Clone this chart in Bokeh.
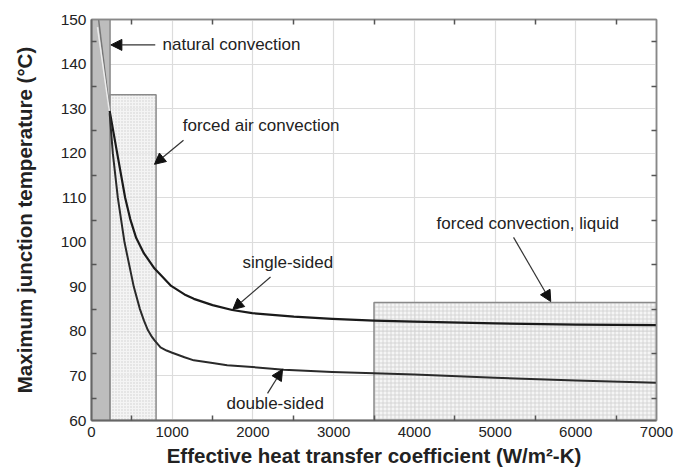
from bokeh.plotting import figure
from bokeh.models import (Range1d, FixedTicker, LinearAxis, Arrow, NormalHead, Label,
                          CustomLabelingPolicy)
from bokeh.embed import file_html
from bokeh.resources import INLINE

# ---- data ----
single_h = [225, 318, 417, 480, 553, 650, 700, 781, 855, 987, 1152, 1268, 1500, 1743, 1991, 2507, 2983, 3500, 4000, 5000, 6000, 7000]
single_T = [129.5, 120, 110, 105.2, 101.0, 97.5, 96.2, 94.1, 92.7, 90.2, 88.3, 87.3, 85.9, 84.8, 84.1, 83.3, 82.8, 82.4, 82.2, 81.8, 81.5, 81.4]
double_h = [225, 264, 326, 409, 524, 600, 650, 698, 740, 781, 855, 930, 1000, 1152, 1268, 1500, 1681, 1991, 2383, 2983, 3500, 4000, 5000, 6000, 7000]
double_T = [129, 120, 110, 100, 90, 85.0, 82.4, 80.3, 79.0, 78.0, 76.4, 75.7, 75.2, 74.2, 73.5, 72.9, 72.4, 72.0, 71.4, 70.9, 70.6, 70.3, 69.6, 69.0, 68.5]
# continuation of the curves inside the natural-convection band
single_nat_h = [88, 225]
single_nat_T = [150, 129.5]
double_nat_h = [74, 225]
double_nat_T = [148.3, 129]

# regimes: (left, right, top)
regime_natural = (0, 230, 150)
regime_forced_air = (230, 800, 133.1)
regime_liquid = (3500, 7000, 86.5)

x_ticks = [0, 1000, 2000, 3000, 4000, 5000, 6000, 7000]
x_minor = [500, 1500, 2500, 3500, 4500, 5500, 6500]
y_ticks = [60, 70, 80, 90, 100, 110, 120, 130, 140, 150]
y_minor = [65, 75, 85, 95, 105, 115, 125, 135, 145]

FONT = "Liberation Sans"
TXT = "#222222"

p = figure(width=687, height=471, output_backend="svg", toolbar_location=None,
           x_range=Range1d(0, 7000), y_range=Range1d(60, 150),
           min_border_left=91, min_border_right=31, min_border_top=19, min_border_bottom=51,
           background_fill_color="white", border_fill_color="white")
p.outline_line_color = "#888888"
p.outline_line_width = 1.5

# grid
for g in (p.xgrid, p.ygrid):
    g.grid_line_color = "#dcdcdc"
    g.grid_line_width = 1.2
p.xgrid.ticker = FixedTicker(ticks=x_ticks)
p.ygrid.ticker = FixedTicker(ticks=y_ticks)

def style_axis(ax, ticks, minor, show_labels=True):
    ax.ticker = FixedTicker(ticks=ticks, minor_ticks=minor)
    ax.major_tick_in = 0
    ax.major_tick_out = 0
    ax.minor_tick_in = 5
    ax.minor_tick_out = 0
    ax.minor_tick_line_color = "#555555"
    ax.minor_tick_line_width = 1.5
    ax.axis_line_color = "#666666"
    ax.axis_line_width = 2
    ax.major_label_text_font = FONT
    ax.major_label_text_color = TXT
    ax.major_label_text_font_size = "15px"
    if not show_labels:
        ax.major_label_policy = CustomLabelingPolicy(code="return []")
        ax.major_label_standoff = 0

style_axis(p.xaxis[0], x_ticks, x_minor)
style_axis(p.yaxis[0], y_ticks, y_minor)
p.yaxis[0].major_label_text_font_size = "15.5px"
p.xaxis[0].major_label_standoff = 6
p.yaxis[0].major_label_standoff = 5

p.xaxis.axis_label = "Effective heat transfer coefficient (W/m\u00b2-K)"
p.yaxis.axis_label = "Maximum junction temperature (\u00b0C)"
for ax in (p.xaxis[0], p.yaxis[0]):
    ax.axis_label_text_font = FONT
    ax.axis_label_text_font_size = "20.5px"
    ax.axis_label_text_font_style = "bold"
    ax.axis_label_text_color = TXT
p.xaxis[0].axis_label_standoff = 4
p.yaxis[0].axis_label_standoff = 22

top_ax = LinearAxis()
style_axis(top_ax, x_ticks, x_minor, show_labels=False)
top_ax.axis_line_color = "#888888"
top_ax.axis_line_width = 1.5
p.add_layout(top_ax, "above")
right_ax = LinearAxis()
style_axis(right_ax, y_ticks, y_minor, show_labels=False)
right_ax.axis_line_color = "#888888"
right_ax.axis_line_width = 1.5
p.add_layout(right_ax, "right")

# regimes
l, r, t = regime_natural
p.quad(left=[l], right=[r], bottom=[60], top=[t], fill_color="#bdbdbd",
       line_color="#8a8a8a", line_width=1.5)
l, r, t = regime_forced_air
p.quad(left=[l], right=[r], bottom=[60], top=[t], fill_color="#efefef", fill_alpha=0.7,
       hatch_pattern="dot", hatch_scale=3, hatch_color="#c4c4c4", hatch_alpha=0.8,
       line_color="#8a8a8a", line_width=1.5)
l, r, t = regime_liquid
p.quad(left=[l], right=[r], bottom=[60], top=[t], fill_color="#eeeeee", fill_alpha=0.6,
       hatch_pattern="cross", hatch_scale=4, hatch_color="#cfcfcf", hatch_alpha=0.8,
       line_color="#8a8a8a", line_width=1.5)

# curves
p.line(single_nat_h, single_nat_T, line_color="#777777", line_width=1.5)
p.line(double_nat_h, double_nat_T, line_color="#ececec", line_width=1.5)
p.line(single_h, single_T, line_color="#1a1a1a", line_width=2.2, line_join="round")
p.line(double_h, double_T, line_color="#2a2a2a", line_width=2, line_join="round")

# annotations
def note(text, x, y):
    p.add_layout(Label(x=x, y=y, text=text, text_font=FONT, text_font_size="17px",
                       text_color=TXT, text_baseline="middle", text_align="left"))

def arrow(x0, y0, x1, y1):
    p.add_layout(Arrow(end=NormalHead(size=11, fill_color="#111111", line_color="#111111"),
                       x_start=x0, y_start=y0, x_end=x1, y_end=y1,
                       line_color="#333333", line_width=1.2))

note("natural convection", 880, 144.3)
arrow(790, 144.3, 240, 144.3)
note("forced air convection", 1130, 126.2)
arrow(1140, 122.9, 780, 117.5)
note("single-sided", 1871, 95.5)
arrow(2218, 92.2, 1750, 84.9)
note("double-sided", 1673, 63.9)
arrow(2181, 66.1, 2367, 71.5)
note("forced convection, liquid", 4275, 104.3)
arrow(5229, 101.1, 5690, 86.7)

open("out.html", "w").write(file_html(p, INLINE))
